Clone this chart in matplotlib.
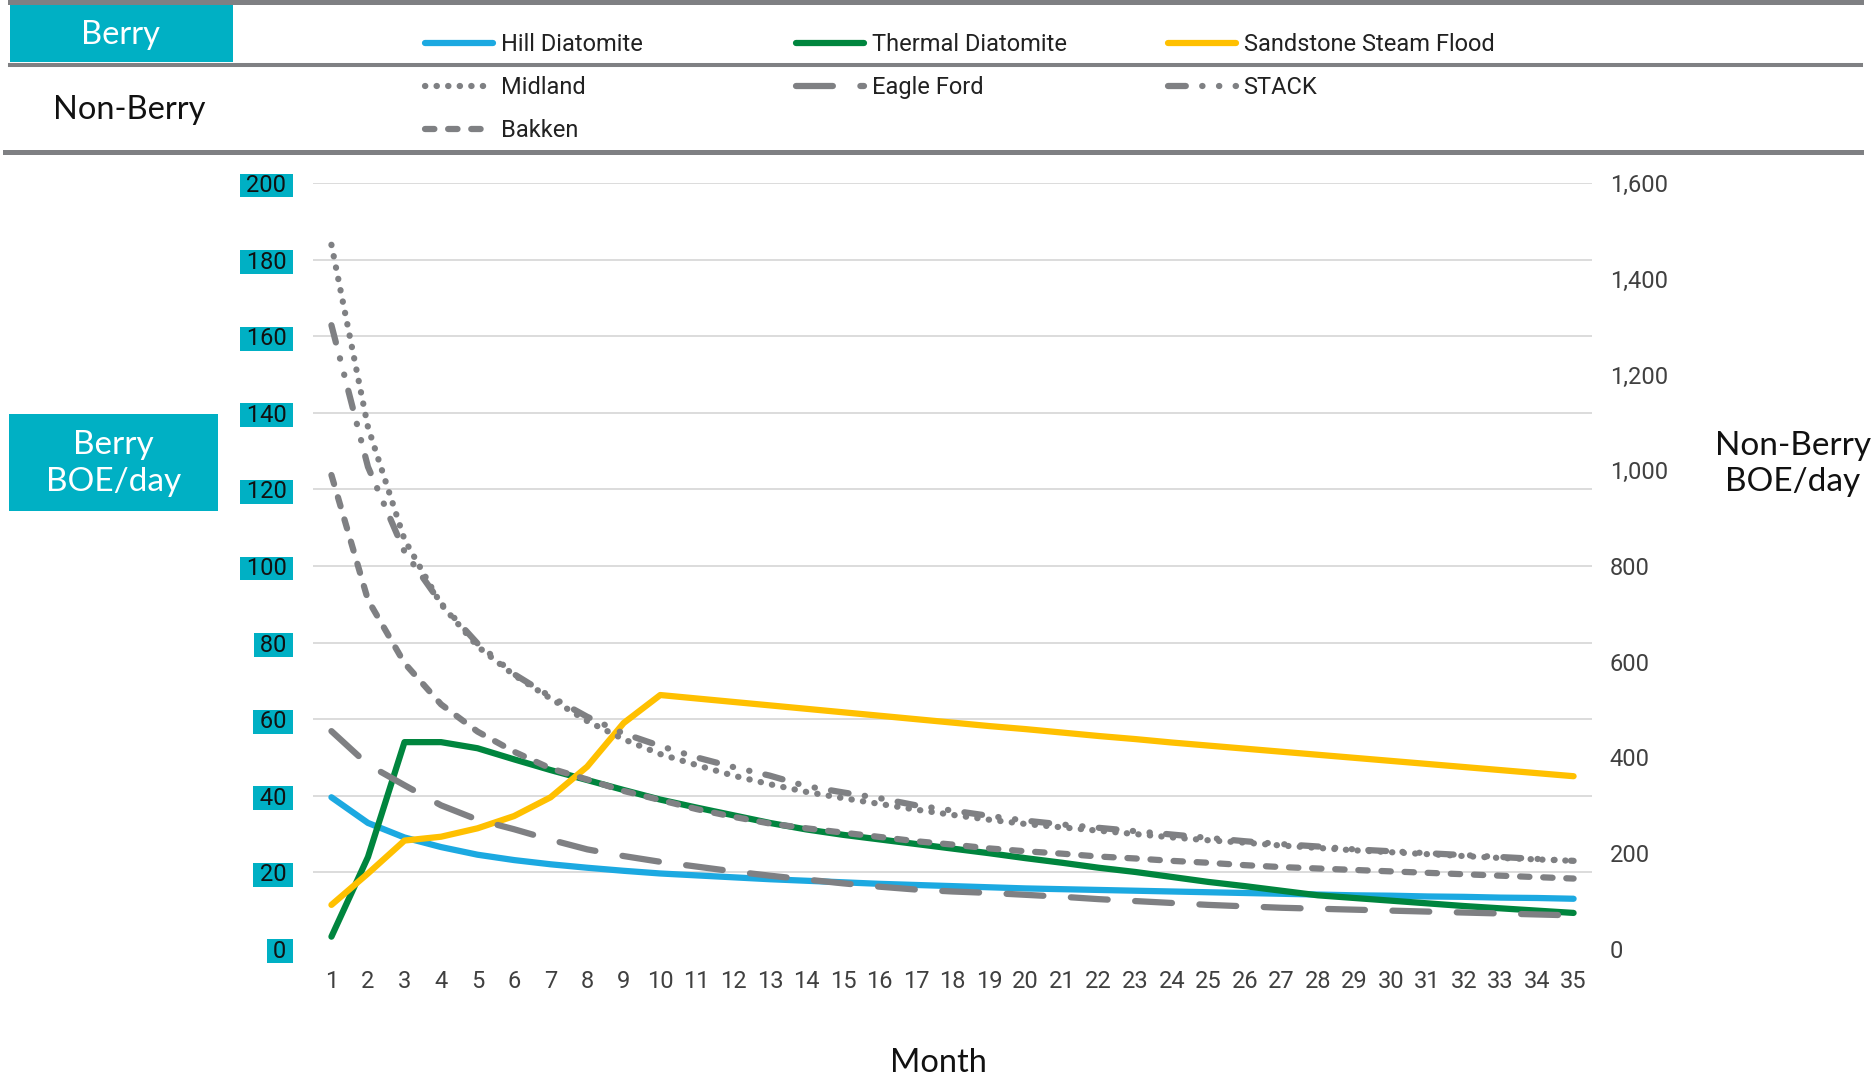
import matplotlib
matplotlib.use("Agg")
import matplotlib.pyplot as plt
from matplotlib.lines import Line2D
from matplotlib.patches import Rectangle
from matplotlib.ticker import FuncFormatter

months = list(range(1, 36))

# Berry wells, left axis (BOE/day)
hill_diatomite = [39.6, 32.9, 29.1, 26.6, 24.6, 23.2, 22.1, 21.2, 20.4, 19.7,
                  19.2, 18.7, 18.2, 17.8, 17.4, 17.0, 16.7, 16.4, 16.1, 15.8,
                  15.6, 15.4, 15.2, 15.0, 14.8, 14.6, 14.4, 14.2, 14.0, 13.9,
                  13.7, 13.6, 13.4, 13.3, 13.1]
thermal_diatomite = [3.2, 24.0, 54.0, 54.0, 52.4, 49.5, 46.7, 44.1, 41.5, 39.0,
                     36.9, 34.9, 32.9, 31.2, 29.8, 28.6, 27.4, 26.2, 25.0, 23.7,
                     22.5, 21.2, 20.1, 18.8, 17.5, 16.4, 15.2, 14.0, 13.3, 12.6,
                     11.9, 11.2, 10.6, 10.0, 9.4]
sandstone_steam_flood = [11.5, 19.7, 28.3, 29.3, 31.5, 34.7, 39.6, 47.6, 59.0, 66.3,
                         65.4, 64.5, 63.6, 62.7, 61.8, 60.9, 60.0, 59.1, 58.2, 57.4,
                         56.5, 55.6, 54.8, 53.9, 53.1, 52.3, 51.5, 50.7, 49.9, 49.1,
                         48.3, 47.5, 46.7, 45.9, 45.1]

# Non-Berry basins, right axis (BOE/day)
midland = [1471, 1090, 855, 720, 632, 572, 523, 476, 438, 407,
           384, 362, 344, 328, 315, 303, 291, 280, 270, 261,
           254, 247, 240, 233, 227, 222, 216, 211, 206, 202,
           198, 194, 190, 187, 184]
eagle_ford = [455, 385, 342, 300, 270, 250, 228, 208, 194, 182,
              172, 162, 153, 145, 137, 130, 124, 120, 117, 113,
              109, 104, 100, 96, 92, 89, 86, 84, 82, 80,
              78, 76, 74, 72, 70]
stack = [1303, 1007, 830, 722, 638, 574, 527, 485, 450, 424,
         400, 380, 362, 340, 327, 315, 300, 289, 278, 268,
         260, 253, 246, 239, 232, 225, 219, 214, 208, 204,
         200, 196, 192, 188, 184]
bakken = [990, 729, 597, 511, 454, 412, 377, 354, 330, 311,
          292, 276, 262, 252, 243, 234, 225, 218, 210, 204,
          199, 193, 189, 184, 180, 175, 171, 168, 165, 162,
          159, 156, 153, 150, 147]

berry_ticks = list(range(0, 201, 20))
nonberry_ticks = list(range(0, 1601, 200))

TEAL = "#00B0C4"
GRAY = "#7F8083"
TICK_FONT = "Roboto"
HEAD_FONT = "Lato"
LW = 4.5

fig = plt.figure(figsize=(18.73, 10.76), dpi=100)
ax = fig.add_axes([0.1672, 0.1181, 0.6827, 0.7118])
ax2 = ax.twinx()

# berry lines on the left axis
l_hill, = ax.plot(months, hill_diatomite, color="#1CA9E1", lw=LW, solid_capstyle="round", label="Hill Diatomite")
l_therm, = ax.plot(months, thermal_diatomite, color="#00853E", lw=LW, solid_capstyle="round", label="Thermal Diatomite")
l_sand, = ax.plot(months, sandstone_steam_flood, color="#FFC000", lw=LW, solid_capstyle="round", label="Sandstone Steam Flood")

# non-berry lines on the right axis
l_mid, = ax2.plot(months, midland, color=GRAY, lw=LW, ls=(0, (0.05, 1.8)), dash_capstyle="round", label="Midland")
l_eagle, = ax2.plot(months, eagle_ford, color=GRAY, lw=LW, ls=(0, (5.9, 4.4)), dash_capstyle="round", label="Eagle Ford")
l_stack, = ax2.plot(months, stack, color=GRAY, lw=LW, ls=(0, (2.85, 2.62, 0.05, 2.64, 0.05, 2.61)),
                    dash_capstyle="round", label="STACK")
l_bak, = ax2.plot(months, bakken, color=GRAY, lw=LW, ls=(0, (1.5, 2.2)), dash_capstyle="round", label="Bakken")

ax.set_xlim(0.5, 35.5)
ax.set_ylim(0, 200)
ax2.set_ylim(0, 1600)
ax.set_xticks(months)
ax.set_yticks(berry_ticks)
ax2.set_yticks(nonberry_ticks)

ax.grid(axis="y", color="#D9D9D9", lw=1.3)
ax.set_axisbelow(True)
ax.yaxis.get_gridlines()[0].set_visible(False)

for a in (ax, ax2):
    for s in a.spines.values():
        s.set_visible(False)

ax.tick_params(axis="x", length=0, pad=15, labelsize=17, labelcolor="#404040")
ax.tick_params(axis="y", length=0, pad=15, labelsize=17, labelcolor="#111111")
ax2.tick_params(axis="y", length=0, pad=13, labelsize=17, labelcolor="#404040")
ax.yaxis.set_major_formatter(FuncFormatter(lambda v, p: f" {v:.0f} "))
ax2.yaxis.set_major_formatter(FuncFormatter(lambda v, p: f"{v:,.0f}"))
for t in ax.get_xticklabels() + ax.get_yticklabels() + ax2.get_yticklabels():
    t.set_fontfamily(TICK_FONT)
for t in ax.get_yticklabels():
    t.set_bbox(dict(boxstyle="square,pad=0.02", facecolor=TEAL, edgecolor="none"))

# header band with the legend
fig.add_artist(Line2D([0.0051, 0.9936], [0.9978, 0.9978], color=GRAY, lw=3.6))
fig.add_artist(Line2D([0.0051, 0.9936], [0.9399, 0.9399], color=GRAY, lw=2.9))
fig.add_artist(Line2D([0.0027, 0.9936], [0.8583, 0.8583], color=GRAY, lw=3.6))
fig.add_artist(Rectangle((0.0051, 0.9424), 0.1193, 0.0530, color=TEAL, lw=0))
fig.text(0.0641, 0.9675, "Berry", color="white", fontsize=23.5, family=HEAD_FONT, ha="center", va="center")
fig.text(0.0689, 0.8978, "Non-Berry", color="#111111", fontsize=23.5, family=HEAD_FONT, ha="center", va="center")

leg_kw = dict(loc="upper left", frameon=False, handlelength=2.9, handletextpad=0.3,
              labelspacing=0.85, borderpad=0, borderaxespad=0,
              prop={"family": TICK_FONT, "size": 17})
columns = [([l_hill, l_mid, l_bak], 0.2269),
           ([l_therm, l_eagle], 0.4250),
           ([l_sand, l_stack], 0.6236)]
for handles, x in columns:
    leg = fig.legend(handles=handles, bbox_to_anchor=(x, 0.9695), **leg_kw)
    for t in leg.get_texts():
        t.set_color("#222222")

# axis titles
fig.add_artist(Rectangle((0.0048, 0.5251), 0.1116, 0.0901, color=TEAL, lw=0))
fig.text(0.0607, 0.5695, "Berry\nBOE/day", color="white", fontsize=24, family=HEAD_FONT,
         ha="center", va="center", linespacing=1.28)
fig.text(0.9573, 0.5688, "Non-Berry\nBOE/day", color="#111111", fontsize=24, family=HEAD_FONT,
         ha="center", va="center", linespacing=1.28)
fig.text(0.5013, 0.0121, "Month", color="#111111", fontsize=23.5, family=HEAD_FONT,
         ha="center", va="center")

fig.savefig("out.png", dpi=100)
